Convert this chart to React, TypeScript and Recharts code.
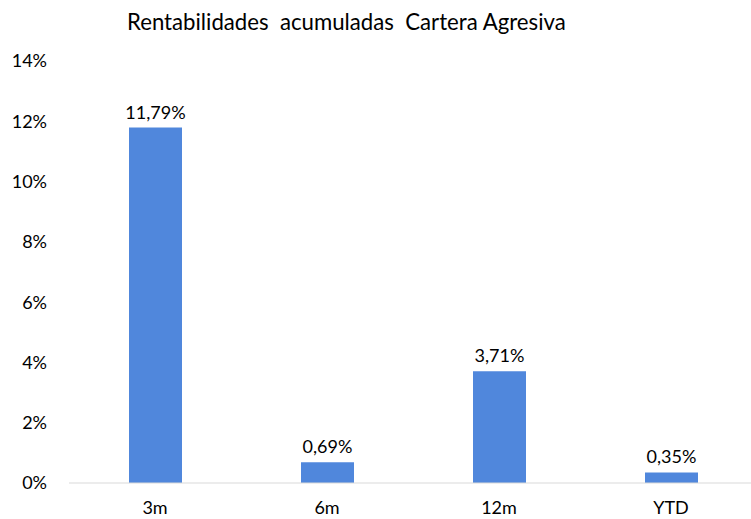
import React from 'react';
import { BarChart, Bar, XAxis, YAxis, LabelList } from 'recharts';

// Rentabilidades acumuladas
const categories = ['3m', '6m', '12m', 'YTD'];
const returns = [11.79, 0.69, 3.71, 0.35];
const yTicks = [0, 2, 4, 6, 8, 10, 12, 14];

const data = categories.map((c, i) => ({ periodo: c, valor: returns[i] }));

const FONT = 'Lato, "Open Sans", sans-serif';

const fmtPct = (v: number) => v.toFixed(2).replace('.', ',') + '%';

export default function App() {
  return (
    <div
      style={{
        position: 'fixed',
        left: 0,
        top: 0,
        width: 751,
        height: 519,
        overflow: 'hidden',
        background: '#fff',
        fontFamily: FONT,
      }}
    >
      <div
        style={{
          position: 'absolute',
          left: 127,
          top: 8,
          fontSize: 22.2,
          color: '#000',
          whiteSpace: 'pre',
        }}
      >
        {'Rentabilidades  acumuladas  Cartera Agresiva'}
      </div>
      <BarChart
        width={757}
        height={519}
        data={data}
        margin={{ top: 61, right: 0, bottom: 0, left: 0 }}
      >
        <XAxis
          dataKey="periodo"
          height={36}
          axisLine={{ stroke: '#d9d9d9', strokeWidth: 1 }}
          tickLine={false}
          tickSize={0}
          tickMargin={18}
          tick={{ fill: '#000', fontSize: 18, fontFamily: FONT }}
        />
        <YAxis
          width={69}
          domain={[0, 14]}
          ticks={yTicks}
          interval={0}
          axisLine={false}
          tickLine={false}
          tickSize={0}
          tickMargin={22}
          tickFormatter={(v: number) => `${v}%`}
          tick={{ fill: '#000', fontSize: 18, fontFamily: FONT }}
        />
        <Bar dataKey="valor" fill="#5087DC" barSize={53} isAnimationActive={false}>
          <LabelList
            dataKey="valor"
            position="top"
            offset={9}
            formatter={(v: number) => fmtPct(v)}
            style={{ fill: '#000', fontSize: 18, fontFamily: FONT }}
          />
        </Bar>
      </BarChart>
    </div>
  );
}
